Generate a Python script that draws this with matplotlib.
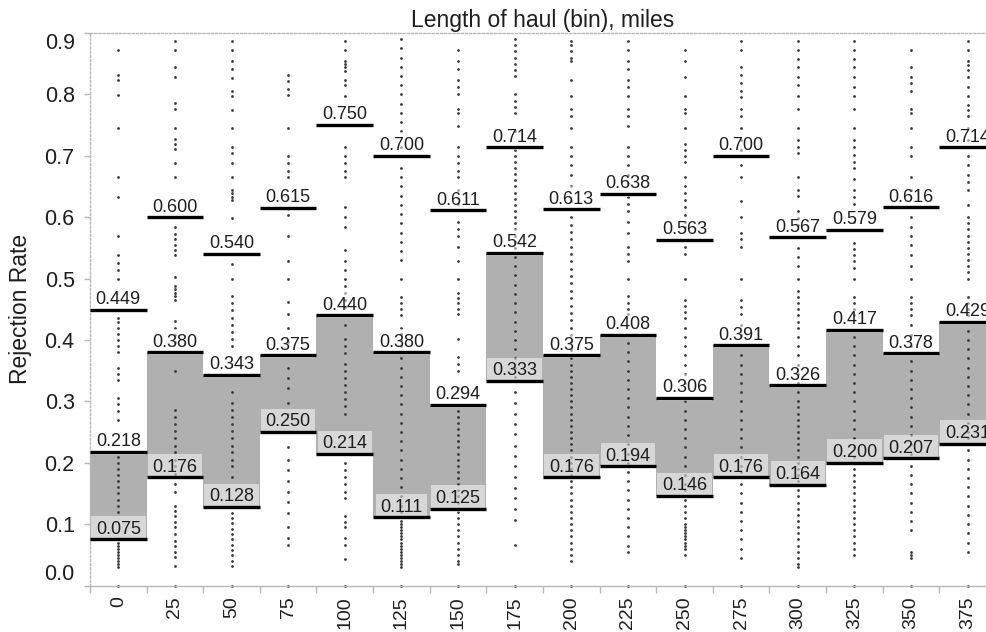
import numpy as np
import matplotlib
matplotlib.use("Agg")
import matplotlib.pyplot as plt

plt.rcParams["font.family"] = ["Liberation Sans", "DejaVu Sans"]

# Haul-length bins (miles)
bins = [0, 25, 50, 75, 100, 125, 150, 175, 200, 225, 250, 275, 300, 325, 350, 375]

# Summary levels per bin
lower = [0.075, 0.176, 0.128, 0.250, 0.214, 0.111, 0.125, 0.333,
         0.176, 0.194, 0.146, 0.176, 0.164, 0.200, 0.207, 0.231]
middle = [0.218, 0.380, 0.343, 0.375, 0.440, 0.380, 0.294, 0.542,
          0.375, 0.408, 0.306, 0.391, 0.326, 0.417, 0.378, 0.429]
upper = [0.449, 0.600, 0.540, 0.615, 0.750, 0.700, 0.611, 0.714,
         0.613, 0.638, 0.563, 0.700, 0.567, 0.579, 0.616, 0.714]

# Individual rejection rates observed in each bin
obs_000 = [0.873, 0.831, 0.824, 0.799, 0.746, 0.665, 0.633, 0.569, 0.538, 0.526, 0.514, 0.500,
           0.448, 0.436, 0.43, 0.42, 0.41, 0.40, 0.39, 0.38, 0.355, 0.345, 0.335, 0.305, 0.295,
           0.285, 0.27, 0.21, 0.20, 0.19, 0.18, 0.17, 0.16, 0.15, 0.14, 0.13, 0.12, 0.07, 0.065,
           0.06, 0.055, 0.05, 0.045, 0.04, 0.035, 0.03, 0.0]
obs_025 = [0.887, 0.873, 0.844, 0.829, 0.786, 0.777, 0.746, 0.728, 0.720, 0.711, 0.688, 0.665,
           0.600, 0.584, 0.572, 0.564, 0.555, 0.546, 0.538, 0.503, 0.488, 0.483, 0.477, 0.471,
           0.465, 0.431, 0.419, 0.408, 0.396, 0.350, 0.286, 0.275, 0.263, 0.252, 0.240, 0.228,
           0.217, 0.205, 0.194, 0.182, 0.165, 0.153, 0.130, 0.121, 0.113, 0.104, 0.095, 0.084,
           0.072, 0.064, 0.055, 0.046, 0.032, 0.0]
obs_050 = [0.887, 0.873, 0.855, 0.841, 0.827, 0.806, 0.798, 0.775, 0.746, 0.714, 0.705, 0.688,
           0.665, 0.645, 0.639, 0.633, 0.628, 0.598, 0.523, 0.500, 0.471, 0.460, 0.448, 0.436,
           0.425, 0.413, 0.402, 0.390, 0.315, 0.298, 0.286, 0.275, 0.263, 0.252, 0.240, 0.228,
           0.217, 0.205, 0.194, 0.176, 0.118, 0.110, 0.101, 0.092, 0.084, 0.075, 0.066, 0.058,
           0.049, 0.040, 0.032, 0.0]
obs_075 = [0.831, 0.821, 0.809, 0.799, 0.746, 0.699, 0.688, 0.676, 0.665, 0.613, 0.604, 0.569,
           0.529, 0.500, 0.462, 0.442, 0.419, 0.396, 0.375, 0.355, 0.338, 0.321, 0.298, 0.280,
           0.225, 0.205, 0.188, 0.171, 0.153, 0.136, 0.118, 0.095, 0.078, 0.066, 0.0]
obs_100 = [0.887, 0.873, 0.855, 0.850, 0.844, 0.838, 0.824, 0.815, 0.798, 0.714, 0.699, 0.688,
           0.676, 0.665, 0.616, 0.601, 0.584, 0.546, 0.529, 0.514, 0.500, 0.488, 0.477, 0.465,
           0.454, 0.425, 0.402, 0.390, 0.379, 0.361, 0.350, 0.338, 0.327, 0.315, 0.303, 0.292,
           0.280, 0.199, 0.188, 0.176, 0.165, 0.153, 0.142, 0.113, 0.104, 0.095, 0.078, 0.066,
           0.043, 0.0]
obs_125 = [0.89, 0.875, 0.86, 0.845, 0.83, 0.815, 0.80, 0.785, 0.77, 0.755, 0.74, 0.714, 0.70,
           0.68, 0.665, 0.65, 0.635, 0.62, 0.605, 0.59, 0.575, 0.56, 0.545, 0.53, 0.50, 0.47,
           0.46, 0.45, 0.44, 0.42, 0.41, 0.40, 0.39, 0.37, 0.355, 0.34, 0.325, 0.31, 0.295, 0.28,
           0.265, 0.25, 0.235, 0.22, 0.205, 0.19, 0.175, 0.16, 0.145, 0.13, 0.12, 0.105, 0.10,
           0.095, 0.09, 0.085, 0.08, 0.075, 0.07, 0.065, 0.06, 0.055, 0.05, 0.045, 0.04, 0.035,
           0.03, 0.0]
obs_150 = [0.873, 0.855, 0.841, 0.824, 0.812, 0.80, 0.777, 0.769, 0.749, 0.714, 0.699, 0.688,
           0.676, 0.665, 0.645, 0.621, 0.592, 0.581, 0.569, 0.552, 0.529, 0.500, 0.477, 0.468,
           0.460, 0.451, 0.442, 0.402, 0.373, 0.361, 0.350, 0.321, 0.285, 0.275, 0.265, 0.255,
           0.245, 0.235, 0.225, 0.215, 0.205, 0.195, 0.185, 0.175, 0.165, 0.155, 0.145, 0.135,
           0.12, 0.11, 0.10, 0.09, 0.08, 0.07, 0.06, 0.05, 0.04, 0.035, 0.0]
obs_175 = [0.89, 0.88, 0.87, 0.86, 0.85, 0.84, 0.83, 0.80, 0.79, 0.78, 0.77, 0.74, 0.71, 0.70,
           0.69, 0.68, 0.67, 0.66, 0.65, 0.64, 0.63, 0.62, 0.61, 0.60, 0.59, 0.58, 0.57, 0.56,
           0.55, 0.535, 0.52, 0.505, 0.49, 0.475, 0.46, 0.445, 0.43, 0.415, 0.40, 0.385, 0.37,
           0.355, 0.34, 0.315, 0.298, 0.280, 0.263, 0.246, 0.228, 0.211, 0.194, 0.176, 0.159,
           0.142, 0.124, 0.107, 0.066, 0.0]
obs_200 = [0.887, 0.88, 0.87, 0.86, 0.855, 0.824, 0.798, 0.777, 0.765, 0.746, 0.714, 0.699,
           0.685, 0.668, 0.65, 0.627, 0.60, 0.588, 0.576, 0.564, 0.552, 0.54, 0.528, 0.516,
           0.504, 0.492, 0.48, 0.468, 0.456, 0.444, 0.432, 0.42, 0.408, 0.396, 0.384, 0.37,
           0.36, 0.35, 0.34, 0.33, 0.32, 0.31, 0.30, 0.29, 0.28, 0.27, 0.26, 0.25, 0.24, 0.23,
           0.22, 0.21, 0.20, 0.19, 0.18, 0.17, 0.16, 0.15, 0.14, 0.13, 0.12, 0.11, 0.10, 0.09,
           0.08, 0.07, 0.06, 0.05, 0.04, 0.0]
obs_225 = [0.887, 0.873, 0.855, 0.841, 0.824, 0.812, 0.798, 0.777, 0.765, 0.749, 0.714, 0.699,
           0.685, 0.668, 0.656, 0.633, 0.621, 0.61, 0.592, 0.575, 0.552, 0.54, 0.529, 0.50,
           0.471, 0.46, 0.45, 0.442, 0.395, 0.38, 0.365, 0.35, 0.335, 0.32, 0.305, 0.29, 0.275,
           0.26, 0.245, 0.23, 0.215, 0.20, 0.185, 0.17, 0.155, 0.14, 0.125, 0.11, 0.095, 0.08,
           0.065, 0.055, 0.0]
obs_250 = [0.873, 0.855, 0.829, 0.798, 0.777, 0.769, 0.746, 0.72, 0.71, 0.70, 0.69, 0.665,
           0.65, 0.64, 0.628, 0.616, 0.604, 0.592, 0.584, 0.552, 0.54, 0.50, 0.465, 0.455,
           0.445, 0.435, 0.42, 0.405, 0.39, 0.375, 0.36, 0.345, 0.33, 0.30, 0.285, 0.27, 0.255,
           0.24, 0.225, 0.21, 0.195, 0.18, 0.165, 0.155, 0.14, 0.13, 0.12, 0.11, 0.10, 0.095,
           0.09, 0.085, 0.08, 0.075, 0.07, 0.065, 0.06, 0.05, 0.0]
obs_275 = [0.887, 0.873, 0.844, 0.832, 0.818, 0.806, 0.795, 0.777, 0.765, 0.746, 0.725, 0.71,
           0.685, 0.665, 0.627, 0.601, 0.575, 0.564, 0.552, 0.50, 0.465, 0.454, 0.442, 0.425,
           0.408, 0.375, 0.36, 0.345, 0.33, 0.315, 0.30, 0.285, 0.27, 0.255, 0.24, 0.225, 0.21,
           0.195, 0.185, 0.165, 0.15, 0.135, 0.12, 0.105, 0.09, 0.075, 0.06, 0.045, 0.0]
obs_300 = [0.887, 0.873, 0.858, 0.844, 0.829, 0.815, 0.798, 0.777, 0.746, 0.725, 0.715, 0.705,
           0.665, 0.645, 0.635, 0.61, 0.598, 0.587, 0.55, 0.535, 0.52, 0.50, 0.48, 0.47, 0.46,
           0.45, 0.44, 0.43, 0.42, 0.405, 0.39, 0.375, 0.36, 0.345, 0.33, 0.315, 0.30, 0.29,
           0.28, 0.27, 0.26, 0.25, 0.24, 0.23, 0.22, 0.21, 0.20, 0.19, 0.18, 0.17, 0.155, 0.145,
           0.135, 0.125, 0.115, 0.105, 0.095, 0.085, 0.075, 0.065, 0.055, 0.045, 0.035, 0.03, 0.0]
obs_325 = [0.887, 0.873, 0.858, 0.844, 0.829, 0.812, 0.798, 0.777, 0.746, 0.725, 0.714, 0.702,
           0.69, 0.68, 0.662, 0.645, 0.633, 0.622, 0.592, 0.558, 0.548, 0.538, 0.528, 0.518,
           0.50, 0.47, 0.46, 0.45, 0.44, 0.405, 0.39, 0.375, 0.36, 0.345, 0.33, 0.315, 0.30,
           0.285, 0.27, 0.255, 0.24, 0.225, 0.21, 0.19, 0.18, 0.17, 0.16, 0.15, 0.14, 0.13,
           0.12, 0.11, 0.10, 0.09, 0.08, 0.07, 0.06, 0.05, 0.0]
obs_350 = [0.873, 0.844, 0.829, 0.818, 0.806, 0.777, 0.769, 0.746, 0.714, 0.699, 0.665, 0.645,
           0.60, 0.584, 0.57, 0.555, 0.538, 0.52, 0.50, 0.47, 0.46, 0.45, 0.44, 0.425, 0.408,
           0.39, 0.365, 0.35, 0.335, 0.32, 0.305, 0.29, 0.275, 0.26, 0.245, 0.23, 0.215, 0.195,
           0.18, 0.165, 0.15, 0.135, 0.12, 0.105, 0.09, 0.055, 0.05, 0.045, 0.0]
obs_375 = [0.887, 0.873, 0.855, 0.848, 0.84, 0.829, 0.812, 0.798, 0.783, 0.775, 0.765, 0.746,
           0.725, 0.714, 0.699, 0.685, 0.668, 0.657, 0.645, 0.62, 0.60, 0.59, 0.58, 0.57, 0.56,
           0.55, 0.54, 0.53, 0.52, 0.51, 0.50, 0.47, 0.46, 0.45, 0.44, 0.415, 0.40, 0.385, 0.37,
           0.355, 0.34, 0.325, 0.31, 0.295, 0.28, 0.265, 0.25, 0.24, 0.22, 0.205, 0.19, 0.175,
           0.16, 0.145, 0.13, 0.115, 0.10, 0.085, 0.07, 0.055, 0.0]

observations = [obs_000, obs_025, obs_050, obs_075, obs_100, obs_125, obs_150, obs_175,
                obs_200, obs_225, obs_250, obs_275, obs_300, obs_325, obs_350, obs_375]

BOX_GREY = "#b0b0b0"
FRAME_GREY = "#b8b8b8"
TEXT = "#1e1e1e"

fig = plt.figure(figsize=(9.87, 6.32), dpi=100)
ax = fig.add_axes([90 / 987, 46.5 / 632, 906 / 987, 552.5 / 632])

pos = np.arange(len(bins))

# shaded band between the lower and middle level of every bin
ax.bar(pos, np.array(middle) - np.array(lower), bottom=lower, width=1.0,
       color=BOX_GREY, edgecolor="none", zorder=1)

# observation dots stacked on each bin centre
for i, vals in enumerate(observations):
    ax.plot(np.full(len(vals), pos[i]), vals, "o", ls="none", ms=2.0, mew=0,
            color="#383838", zorder=2, clip_on=False)

# horizontal level bars with value labels
for level in (lower, middle, upper):
    ax.hlines(level, pos - 0.5, pos + 0.5, colors="black", lw=2.4, zorder=4)
    for i, v in enumerate(level):
        ax.annotate(f"{v:.3f}", (pos[i], v), xytext=(0, 1.2), textcoords="offset points",
                    ha="center", va="bottom", fontsize=13, color=TEXT, zorder=3,
                    bbox=dict(boxstyle="square,pad=0.26", fc="white", ec="none", alpha=0.5))

ax.set_xlim(-0.5, len(bins) - 0.5)
ax.set_ylim(0, 0.9)

# axis frame
for side in ("top", "left", "bottom"):
    ax.spines[side].set_color(FRAME_GREY)
    ax.spines[side].set_linewidth(1.0)
ax.spines["top"].set_linestyle((0, (1.5, 1.5)))
ax.spines["left"].set_linestyle((0, (1.5, 1.5)))
ax.spines["right"].set_visible(False)

# y axis
yt = np.round(np.arange(0, 0.91, 0.1), 1)
ax.set_yticks(yt)
ax.set_yticklabels([f"{v:.1f}" for v in yt])
ax.tick_params(axis="y", direction="out", length=4, width=1, color=FRAME_GREY,
               pad=7, labelsize=15.5, labelcolor=TEXT)
yticks = ax.yaxis.get_major_ticks()
yticks[0].label1.set_verticalalignment("bottom")
yticks[-1].label1.set_verticalalignment("top")

# x axis: ticks at bin edges, labels at bin centres
ax.set_xticks(np.arange(-0.5, len(bins), 1.0))
ax.set_xticklabels([])
ax.tick_params(axis="x", which="major", direction="out", length=5, width=1, color=FRAME_GREY)
ax.set_xticks(pos, minor=True)
ax.set_xticklabels([str(b) for b in bins], minor=True, rotation=90, va="top", ha="center")
ax.tick_params(axis="x", which="minor", length=0, pad=8, labelsize=14, labelcolor=TEXT)

ax.set_ylabel("Rejection Rate", fontsize=16.5, color=TEXT, labelpad=9)
ax.set_title("Length of haul (bin), miles", fontsize=16.5, color=TEXT, pad=4)

fig.savefig("out.png", dpi=100, facecolor="white")
